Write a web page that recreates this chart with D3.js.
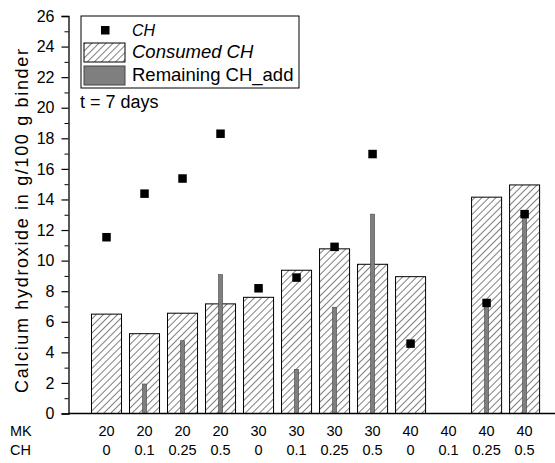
<!DOCTYPE html>
<html>
<head>
<meta charset="utf-8">
<script src="https://cdn.jsdelivr.net/npm/d3@7"></script>
<style>
  body { margin: 0; background: #fff; }
  svg { font-family: "Liberation Sans", Arial, sans-serif; }
</style>
</head>
<body>
<div id="chart"></div>
<script>
// categories (x rows)
var mkLabels = ["20", "20", "20", "20", "30", "30", "30", "30", "40", "40", "40", "40"];
var chLabels = ["0", "0.1", "0.25", "0.5", "0", "0.1", "0.25", "0.5", "0", "0.1", "0.25", "0.5"];

// series values, g/100 g binder
var consumedCH = [6.5, 5.22, 6.56, 7.17, 7.6, 9.37, 10.77, 9.76, 8.95, null, 14.15, 14.95];
var totalCH = [11.53, 14.38, 15.37, 18.3, 8.19, 8.89, 10.9, 16.97, 4.57, null, 7.23, 13.04];
var remainingCH = [null, 1.93, 4.76, 9.08, null, 2.89, 6.95, 13.04, null, null, 7.21, 13.0];

var yTicks = [0, 2, 4, 6, 8, 10, 12, 14, 16, 18, 20, 22, 24, 26];

var width = 555, height = 463;

var svg = d3.select("#chart").append("svg")
    .attr("width", width)
    .attr("height", height);

// hatch pattern for consumed CH
var defs = svg.append("defs");
defs.append("pattern")
    .attr("id", "hatch")
    .attr("patternUnits", "userSpaceOnUse")
    .attr("width", 5)
    .attr("height", 5)
    .attr("patternTransform", "rotate(45)")
  .append("line")
    .attr("x1", 0).attr("y1", 0)
    .attr("x2", 0).attr("y2", 5)
    .attr("stroke", "#000")
    .attr("stroke-width", 1);

var x = d3.scaleLinear().domain([0, 12.8]).range([68.5, 555]);
var y = d3.scaleLinear().domain([0, 26]).range([413.5, 16]);

var idx = d3.range(mkLabels.length);
var barW = x(0.79) - x(0);
var thinW = 4;

// consumed CH bars
svg.append("g").selectAll("rect")
    .data(idx.filter(function(i){ return consumedCH[i] != null; }))
    .enter().append("rect")
    .attr("x", function(i){ return x(i + 1) - barW / 2; })
    .attr("y", function(i){ return y(consumedCH[i]); })
    .attr("width", barW)
    .attr("height", function(i){ return y(0) - y(consumedCH[i]); })
    .attr("fill", "url(#hatch)")
    .attr("stroke", "#000")
    .attr("stroke-width", 1);

// remaining CH_add bars
svg.append("g").selectAll("rect")
    .data(idx.filter(function(i){ return remainingCH[i] != null; }))
    .enter().append("rect")
    .attr("x", function(i){ return x(i + 1) - thinW / 2; })
    .attr("y", function(i){ return y(remainingCH[i]); })
    .attr("width", thinW)
    .attr("height", function(i){ return y(0) - y(remainingCH[i]); })
    .attr("fill", "#7f7f7f")
    .attr("stroke", "#444")
    .attr("stroke-width", 0.6);

// CH points
var sq = 8.5;
svg.append("g").selectAll("rect")
    .data(idx.filter(function(i){ return totalCH[i] != null; }))
    .enter().append("rect")
    .attr("x", function(i){ return x(i + 1) - sq / 2; })
    .attr("y", function(i){ return y(totalCH[i]) - sq / 2; })
    .attr("width", sq)
    .attr("height", sq)
    .attr("fill", "#000");

// y axis, major + minor ticks
var yAxis = svg.append("g")
    .attr("transform", "translate(" + x(0) + ",0)")
    .call(d3.axisLeft(y).tickValues(yTicks).tickSize(7).tickFormat(d3.format("d")));
yAxis.select(".domain").attr("stroke-width", 1.3);
yAxis.selectAll(".tick line").attr("stroke-width", 1.2);
yAxis.selectAll("text")
    .attr("font-size", 16)
    .attr("font-family", "Liberation Sans, Arial, sans-serif")
    .attr("x", -14);

svg.append("g")
    .attr("transform", "translate(" + x(0) + ",0)")
    .call(d3.axisLeft(y).tickValues(d3.range(1, 26, 2)).tickSize(4).tickFormat(""))
    .call(function(g){ g.select(".domain").remove(); });

// x axis line
svg.append("line")
    .attr("x1", x(0)).attr("x2", width)
    .attr("y1", y(0)).attr("y2", y(0))
    .attr("stroke", "#000")
    .attr("stroke-width", 1.3);

// category rows
var rows = svg.append("g").attr("font-size", 14.5).attr("text-anchor", "middle");
rows.append("text").attr("x", 10).attr("y", 435.5).attr("text-anchor", "start").text("MK");
rows.append("text").attr("x", 10).attr("y", 455).attr("text-anchor", "start").text("CH");
rows.selectAll(".mk").data(idx).enter().append("text")
    .attr("class", "mk")
    .attr("x", function(i){ return x(i + 1); })
    .attr("y", 435.5)
    .text(function(i){ return mkLabels[i]; });
rows.selectAll(".ch").data(idx).enter().append("text")
    .attr("class", "ch")
    .attr("x", function(i){ return x(i + 1); })
    .attr("y", 455)
    .text(function(i){ return chLabels[i]; });

// y title
svg.append("text")
    .attr("transform", "translate(28,221) rotate(-90)")
    .attr("text-anchor", "middle")
    .attr("font-size", 18)
    .attr("textLength", 344)
    .attr("lengthAdjust", "spacing")
    .text("Calcium hydroxide in g/100 g binder");

// legend
var lg = svg.append("g");
lg.append("rect")
    .attr("x", 81).attr("y", 16).attr("width", 218).attr("height", 72)
    .attr("fill", "#fff").attr("stroke", "#000").attr("stroke-width", 1);
lg.append("rect")
    .attr("x", 101).attr("y", 26).attr("width", sq).attr("height", sq).attr("fill", "#000");
lg.append("rect")
    .attr("x", 84).attr("y", 43).attr("width", 41).attr("height", 19)
    .attr("fill", "url(#hatch)").attr("stroke", "#000");
lg.append("rect")
    .attr("x", 84).attr("y", 66).attr("width", 41).attr("height", 19)
    .attr("fill", "#7f7f7f").attr("stroke", "#444");
lg.append("text").attr("x", 132).attr("y", 35.7).attr("font-size", 16).attr("font-style", "italic").text("CH");
lg.append("text").attr("x", 132).attr("y", 57.5).attr("font-size", 18.5).attr("font-style", "italic").text("Consumed CH");
lg.append("text").attr("x", 132).attr("y", 81).attr("font-size", 18.5).text("Remaining CH_add");

svg.append("text")
    .attr("x", 80).attr("y", 108.3)
    .attr("font-size", 18)
    .text("t = 7 days");
</script>
</body>
</html>
